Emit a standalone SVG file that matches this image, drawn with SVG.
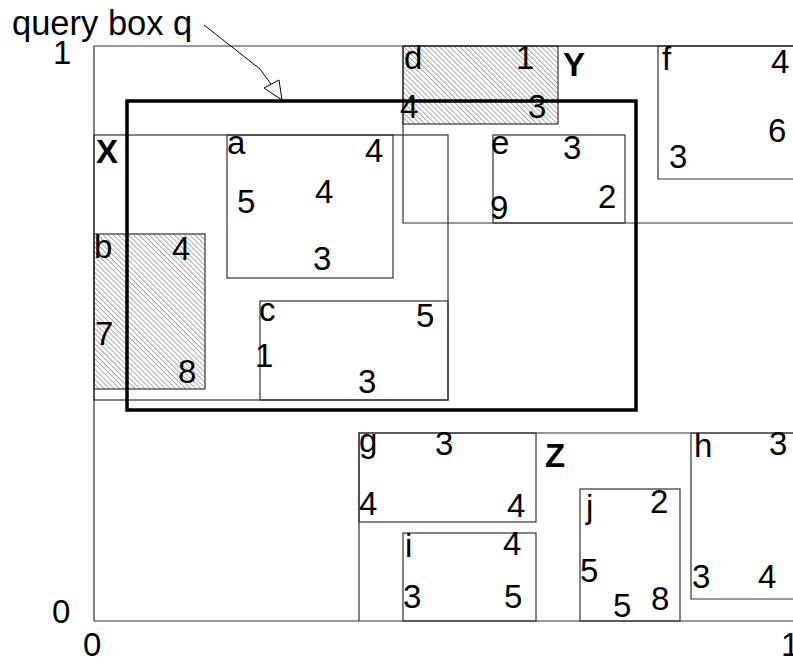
<svg xmlns="http://www.w3.org/2000/svg" width="793" height="662" viewBox="0 0 793 662">
<style>
  .r{fill:none;stroke:#333;stroke-width:1.2}
  .h{fill:url(#hatch);stroke:#333;stroke-width:1.2}
  .t{font-family:"Liberation Sans",Arial,sans-serif;font-size:33px;fill:#000}
  .b{font-weight:bold}
  .q{fill:none;stroke:#000;stroke-width:3.5}
</style>
<defs>
  <pattern id="hatch" width="3.6" height="3.6" patternUnits="userSpaceOnUse" patternTransform="rotate(-45)">
    <line x1="0" y1="0" x2="0" y2="3.6" stroke="#333" stroke-width="0.8"/>
  </pattern>
</defs>
<rect width="793" height="662" fill="#fff"/>

<g id="axes">
  <polyline class="r" points="800,46 94,46 94,621 800,621"/>
  <text class="t" x="53" y="64">1</text>
  <text class="t" x="52" y="623">0</text>
  <text class="t" x="83" y="656">0</text>
  <text class="t" x="781" y="656">1</text>
</g>

<g id="X">
  <rect class="r" x="94" y="135" width="354" height="265"/>
  <text class="t b" x="96" y="163">X</text>
</g>
<g id="a">
  <rect class="r" x="227" y="135" width="166" height="143"/>
  <text class="t" x="227" y="154">a</text>
  <text class="t" x="365" y="162">4</text>
  <text class="t" x="237" y="213">5</text>
  <text class="t" x="315" y="203">4</text>
  <text class="t" x="313" y="270">3</text>
</g>
<g id="b">
  <rect class="h" x="94" y="234" width="111" height="155"/>
  <text class="t" x="94" y="258">b</text>
  <text class="t" x="172" y="260">4</text>
  <text class="t" x="95" y="345">7</text>
  <text class="t" x="178" y="383">8</text>
</g>
<g id="c">
  <rect class="r" x="260" y="301" width="188" height="99"/>
  <text class="t" x="259" y="321">c</text>
  <text class="t" x="416" y="327">5</text>
  <text class="t" x="255" y="367">1</text>
  <text class="t" x="358" y="393">3</text>
</g>

<g id="Y">
  <polyline class="r" points="800,46 403,46 403,223 800,223"/>
  <text class="t b" x="563" y="76">Y</text>
</g>
<g id="d">
  <rect class="h" x="403" y="46" width="155" height="78"/>
  <text class="t" x="404" y="69">d</text>
  <text class="t" x="516" y="69">1</text>
  <text class="t" x="400" y="118">4</text>
  <text class="t" x="528" y="118">3</text>
</g>
<g id="e">
  <rect class="r" x="493" y="135" width="132" height="88"/>
  <text class="t" x="491" y="154">e</text>
  <text class="t" x="563" y="159">3</text>
  <text class="t" x="598" y="208">2</text>
  <text class="t" x="490" y="219">9</text>
</g>
<g id="f">
  <polyline class="r" points="800,46 658,46 658,179 800,179"/>
  <text class="t" x="662" y="70">f</text>
  <text class="t" x="771" y="73">4</text>
  <text class="t" x="768" y="142">6</text>
  <text class="t" x="669" y="168">3</text>
</g>

<g id="Z">
  <polyline class="r" points="800,433 359,433 359,621"/>
  <text class="t b" x="545" y="467">Z</text>
</g>
<g id="g">
  <rect class="r" x="359" y="433" width="177" height="89"/>
  <text class="t" x="359" y="452">g</text>
  <text class="t" x="435" y="455">3</text>
  <text class="t" x="359" y="515">4</text>
  <text class="t" x="507" y="517">4</text>
</g>
<g id="i">
  <rect class="r" x="403" y="533" width="133" height="88"/>
  <text class="t" x="405" y="557">i</text>
  <text class="t" x="503" y="555">4</text>
  <text class="t" x="403" y="608">3</text>
  <text class="t" x="504" y="608">5</text>
</g>
<g id="j">
  <rect class="r" x="580" y="489" width="100" height="132"/>
  <text class="t" x="586" y="518">j</text>
  <text class="t" x="650" y="513">2</text>
  <text class="t" x="580" y="582">5</text>
  <text class="t" x="613" y="617">5</text>
  <text class="t" x="651" y="610">8</text>
</g>
<g id="h">
  <polyline class="r" points="800,433 691,433 691,599 800,599"/>
  <text class="t" x="694" y="457">h</text>
  <text class="t" x="769" y="455">3</text>
  <text class="t" x="692" y="588">3</text>
  <text class="t" x="758" y="588">4</text>
</g>

<g id="query">
  <rect class="q" x="127" y="101" width="509" height="309"/>
  <text class="t" x="12" y="35" style="font-size:34.5px">query box q</text>
</g>

<g id="connectors">
  <polyline points="204,25 260,69 271,84" fill="none" stroke="#000" stroke-width="1"/>
  <polygon points="264,88 279,80 282,100" fill="#fff" stroke="#000" stroke-width="1"/>
</g>
</svg>
